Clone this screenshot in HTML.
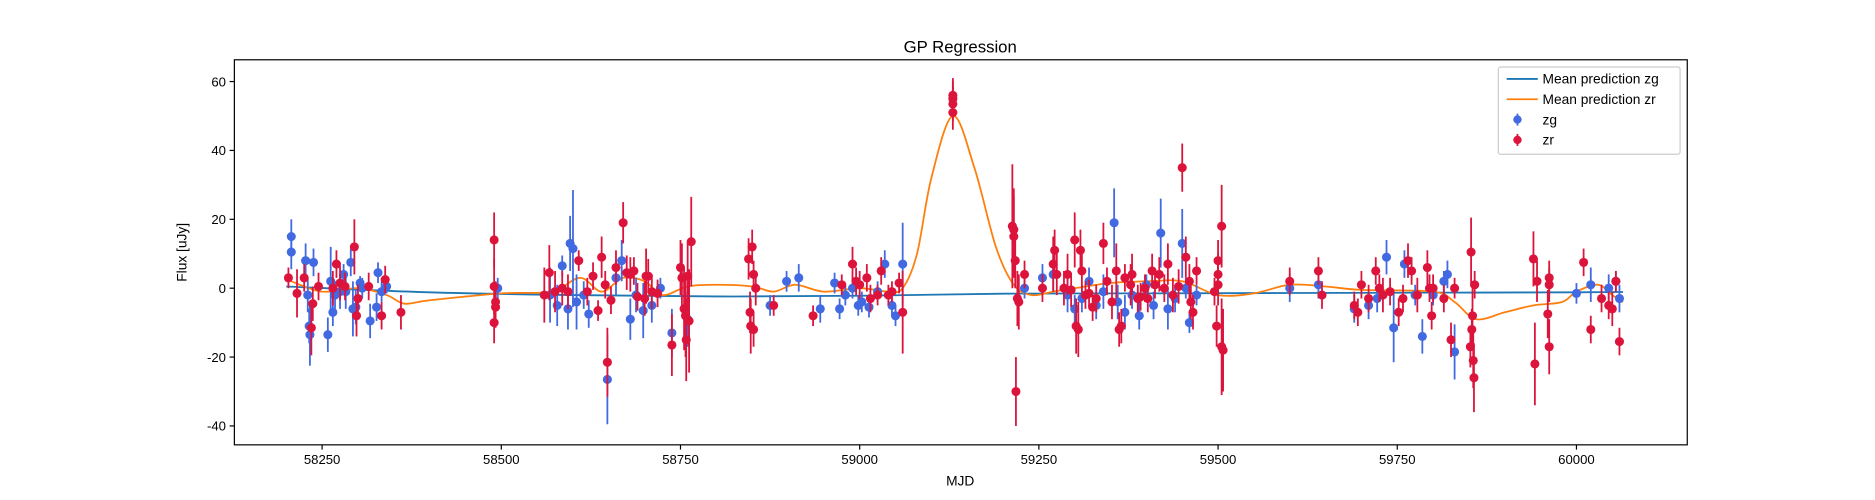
<!DOCTYPE html>
<html><head><meta charset="utf-8"><style>
body{margin:0;background:#fff}
svg{display:block}
svg text{font-family:"Liberation Sans",sans-serif;fill:#000}
</style></head><body>
<svg id="chart" width="1875" height="500" viewBox="0 0 1568 418.13" preserveAspectRatio="none" xmlns="http://www.w3.org/2000/svg">
<rect width="1568" height="418.13" fill="#fff"/>
<text x="803" y="44" text-anchor="middle" font-size="14">GP Regression</text>
<g id="plot"></g>
<text x="803" y="406" text-anchor="middle" font-size="11.5">MJD</text>
<text x="156" y="211" text-anchor="middle" font-size="11.5" transform="rotate(-90 156 211)">Flux [uJy]</text>
<g>
<rect x="1253" y="56" width="152" height="73" fill="#fff" stroke="#ccc" rx="2"/>
<line x1="1260" y1="66" x2="1286" y2="66" stroke="#1f77b4" stroke-width="1.5"/>
<text x="1290" y="70" font-size="11.5">Mean prediction zg</text>
<line x1="1260" y1="83" x2="1286" y2="83" stroke="#ff7f0e" stroke-width="1.5"/>
<text x="1290" y="87" font-size="11.5">Mean prediction zr</text>
<line x1="1269" y1="95" x2="1269" y2="105" stroke="#4169e1" stroke-width="1.5"/><circle cx="1269" cy="100" r="3.5" fill="#4169e1"/>
<text x="1290" y="104" font-size="11.5">zg</text>
<line x1="1269" y1="112" x2="1269" y2="122" stroke="#dc143c" stroke-width="1.5"/><circle cx="1269" cy="117" r="3.5" fill="#dc143c"/>
<text x="1290" y="121" font-size="11.5">zr</text>
</g>
</svg>
<script>
const xTicks=[58250,58500,58750,59000,59250,59500,59750,60000];
const yTicks=[-40,-20,0,20,40,60];
const zgPoints=[[58207,15,5],[58207,10.5,5],[58227,8,5],[58230,-2,5],[58232,-11,5],[58233,-13.5,9],[58238,7.5,4],[58258,-13.5,5],[58262,2,10],[58265,-7,4],[58268,-2,4],[58275,-1,5],[58280,4,3],[58283,-1,5],[58290,7.5,4],[58293,-6,8],[58297,-5.5,5],[58303,1.5,2],[58306,0,3],[58317,-9.5,5],[58326,-5.5,4],[58328,4.5,3],[58333,-1,3],[58340,0.5,2],[58495,0,3],[58568,-2,8],[58578,-5,6],[58585,6.5,3],[58593,-6,6],[58596,13,8],[58600,11.5,17],[58605,-4,8],[58615,-2,4],[58622,-7.5,4],[58648,-26.5,13],[58660,3,5],[58668,8,6],[58680,-9,6],[58688,-2,5],[58698,-6.5,8],[58710,-5,5],[58722,0,3],[58738,-13,7],[58760,-9,8],[58875,-5,3],[58898,2,3],[58915,3,4],[58945,-6,4],[58965,1.5,3],[58972,-6,3],[58980,-2,3],[58990,0,3],[58998,-5,3],[59003,-4,3],[59013,-5.5,3],[59025,-1,3],[59035,7,4],[59045,-5,3],[59050,-8,3],[59060,7,12],[59230,0,3],[59255,3,4],[59270,4,5],[59290,-2,5],[59300,-6,4],[59310,-3,4],[59320,2,4],[59330,-5,4],[59340,-1,5],[59355,19,10],[59360,-4,5],[59370,-7,5],[59380,-2,4],[59390,-8,4],[59400,1,3],[59410,-5,4],[59420,16,10],[59430,-6,6],[59440,-3,4],[59450,13,10],[59455,0,3],[59460,-10,3],[59470,-2,3],[59600,0,4],[59640,1,4],[59690,-6,4],[59710,-5,4],[59722,-3,4],[59735,9,5],[59745,-11.5,10],[59760,7,4],[59775,-2,3],[59785,-14,5],[59800,-2,3],[59815,2,3],[59820,4,4],[59830,-18.5,8],[60000,-1.5,3],[60020,1,5],[60045,0,4],[60055,2,3],[60060,-3,4]];
const zrPoints=[[58203,3,3],[58215,-1.5,7],[58225,3,4],[58235,-11.5,8],[58237,-4.5,5],[58245,0.5,4],[58265,0,5],[58270,7,4],[58275,1.5,5],[58282,0.5,4],[58295,12,8],[58298,-8,6],[58300,-3,4],[58315,0.5,4],[58333,-8,4],[58338,2.5,4],[58360,-7,5],[58490,14,8],[58490,0.5,8],[58492,-4,6],[58492,-5.5,6],[58490,-10,6],[58560,-2,8],[58567,4.5,8],[58575,-1,6],[58585,0,5],[58593,-1,5],[58608,8,3],[58620,-1,4],[58628,3.5,4],[58635,-6.5,3],[58640,9,6],[58645,1,4],[58648,-21.5,10],[58653,-3.5,4],[58660,6,5],[58670,19,6],[58675,4.5,5],[58680,4,5],[58685,5,4],[58690,-2.5,4],[58700,-3,5],[58702,3.5,8],[58705,3.5,5],[58710,-1,5],[58718,-1.5,4],[58738,-16.5,9],[58750,6,8],[58752,3,10],[58755,-6,12],[58757,-8,12],[58758,-15,12],[58760,3.5,10],[58762,-9.5,15],[58765,13.5,13],[58845,8.5,6],[58847,-7,6],[58848,-11,8],[58850,12,5],[58852,-12,5],[58852,4,4],[58855,0,5],[58880,-5,3],[58935,-8,3],[58975,1,3],[58990,7,5],[58995,2,4],[59000,1,4],[59010,3,4],[59015,-3,4],[59025,-2,3],[59030,5,4],[59040,-2,3],[59045,-1,3],[59055,1.5,3],[59060,-7,12],[59130,56,5],[59130,55,5],[59130,53.5,5],[59130,51,5],[59213,18,18],[59215,17,12],[59215,15,12],[59217,8,8],[59218,-30,10],[59220,-3,8],[59222,-4,8],[59230,4,4],[59255,0,4],[59270,7,8],[59272,11,6],[59275,4,6],[59285,0,5],[59290,4,6],[59295,-0.5,5],[59300,14,8],[59302,-11,8],[59305,-12,8],[59308,11,6],[59310,5,6],[59315,-2,4],[59320,-1.5,4],[59325,-5.5,4],[59330,-3,4],[59340,13,6],[59345,2,4],[59352,-4,5],[59358,5,8],[59362,-12,5],[59365,-11,5],[59370,3,4],[59378,1,6],[59380,4,6],[59388,-3,4],[59392,-2.5,4],[59398,0,4],[59402,-3,4],[59408,5,5],[59412,1,4],[59418,4,5],[59425,0,4],[59430,7,6],[59437,-2,5],[59445,0.5,5],[59450,35,7],[59455,9,6],[59460,2,5],[59462,-4,5],[59465,-7,5],[59470,5,4],[59495,-1,4],[59500,4,6],[59500,1,6],[59500,8,6],[59498,-11,6],[59505,18,12],[59505,-17,14],[59507,-18,12],[59600,2,4],[59640,5,4],[59645,-2,4],[59690,-5,4],[59695,-7,4],[59700,1,4],[59710,-3,4],[59720,5,4],[59725,0,4],[59730,-2,5],[59740,-1,4],[59752,-7,4],[59758,-3,4],[59765,8,5],[59770,5,4],[59778,-2,5],[59792,6,5],[59795,0,4],[59798,-8,4],[59800,0,4],[59815,-3,4],[59825,-15,5],[59830,0,3],[59852,-17,6],[59853,10.5,10],[59854,-12,6],[59855,-8,8],[59856,-21,8],[59857,-26,10],[59858,1,4],[59940,8.5,8],[59942,-22,12],[59945,2,6],[59960,-7.5,7],[59962,3,5],[59962,1,5],[59962,-17,8],[60010,7.5,4],[60020,-12,4],[60035,-3,4],[60045,-5,4],[60050,-6,5],[60055,2,3],[60060,-15.5,4]];
const zgMeanX=[58200,58400,58600,58800,59000,59200,59400,59600,59800,60000,60065];
const zgMeanY=[0.5,-1.2,-2,-2.4,-2.2,-1.6,-1.5,-1.4,-1.3,-1.2,-1.1];
const zrMeanX=[58207,58250,58300,58340,58365,58400,58500,58570,58610,58640,58670,58700,58725,58760,58800,58850,58880,58910,58950,59000,59040,59060,59080,59100,59130,59160,59190,59215,59240,59270,59300,59350,59400,59450,59500,59550,59600,59650,59700,59800,59830,59860,59900,59940,59980,60000,60030,60050,60065];
const zrMeanY=[2,-1,0,-2,-4.5,-3.5,-1.5,-1,3,-1,3,2,-2,0.5,1,0.5,-1,1,-1,0,-1,0,10,32,50,35,12,1,-2,-1,0,1.5,2,2,-2,-1.5,1,0.5,-0.5,-1,-4,-9,-7,-5,-4,-1,1,-2,-4];
const L=196,R=1411,T=50,B=372;
const X=v=>L+(v-58127.6)*(R-L)/(60154.6-58127.6);
const Y=v=>241+(0-v)*2.88;
const NS="http://www.w3.org/2000/svg";
const g=document.getElementById('plot');
function mk(t,a){const e=document.createElementNS(NS,t);for(const k in a)e.setAttribute(k,a[k]);g.appendChild(e);return e;}
for(const t of xTicks){const x=X(t);
const l=mk('line',{x1:x,y1:B,x2:x,y2:B+4,stroke:'#000'});


const tx=mk('text',{x:x,y:B+16,'text-anchor':'middle','font-size':'11'});tx.textContent=t;

}
for(const t of yTicks){const y=Y(t);
const l=mk('line',{x1:L-4,y1:y,x2:L,y2:y,stroke:'#000'});


const tx=mk('text',{x:L-7,y:y+4,'text-anchor':'end','font-size':'11'});tx.textContent=t;

}
function curve(xs,ys){const p=xs.map((x,i)=>[X(x),Y(ys[i])]);
let d='M'+p[0][0]+','+p[0][1];
for(let i=0;i<p.length-1;i++){const p0=p[Math.max(0,i-1)],p1=p[i],p2=p[i+1],p3=p[Math.min(p.length-1,i+2)];
const c1=[p1[0]+(p2[0]-p0[0])/6,p1[1]+(p2[1]-p0[1])/6],c2=[p2[0]-(p3[0]-p1[0])/6,p2[1]-(p3[1]-p1[1])/6];
d+=' C'+c1+' '+c2+' '+p2;}return d;}
const lg=mk('path',{d:curve(zgMeanX,zgMeanY),fill:'none',stroke:'#1f77b4','stroke-width':1.5});


const lr=mk('path',{d:curve(zrMeanX,zrMeanY),fill:'none',stroke:'#ff7f0e','stroke-width':1.5});


function pts(arr,col,name){for(const p of arr){const x=X(p[0]);
const e=mk('line',{x1:x,y1:Y(p[1]-p[2]),x2:x,y2:Y(p[1]+p[2]),stroke:col,'stroke-width':1.5});


const c=mk('circle',{cx:x,cy:Y(p[1]),r:3.8,fill:col});

}}
pts(zgPoints,'#4169e1','zg');
pts(zrPoints,'#dc143c','zr');
const fr=mk('rect',{x:L,y:T,width:R-L,height:B-T,fill:'none',stroke:'#000','stroke-width':1});


</script>
</body></html>
